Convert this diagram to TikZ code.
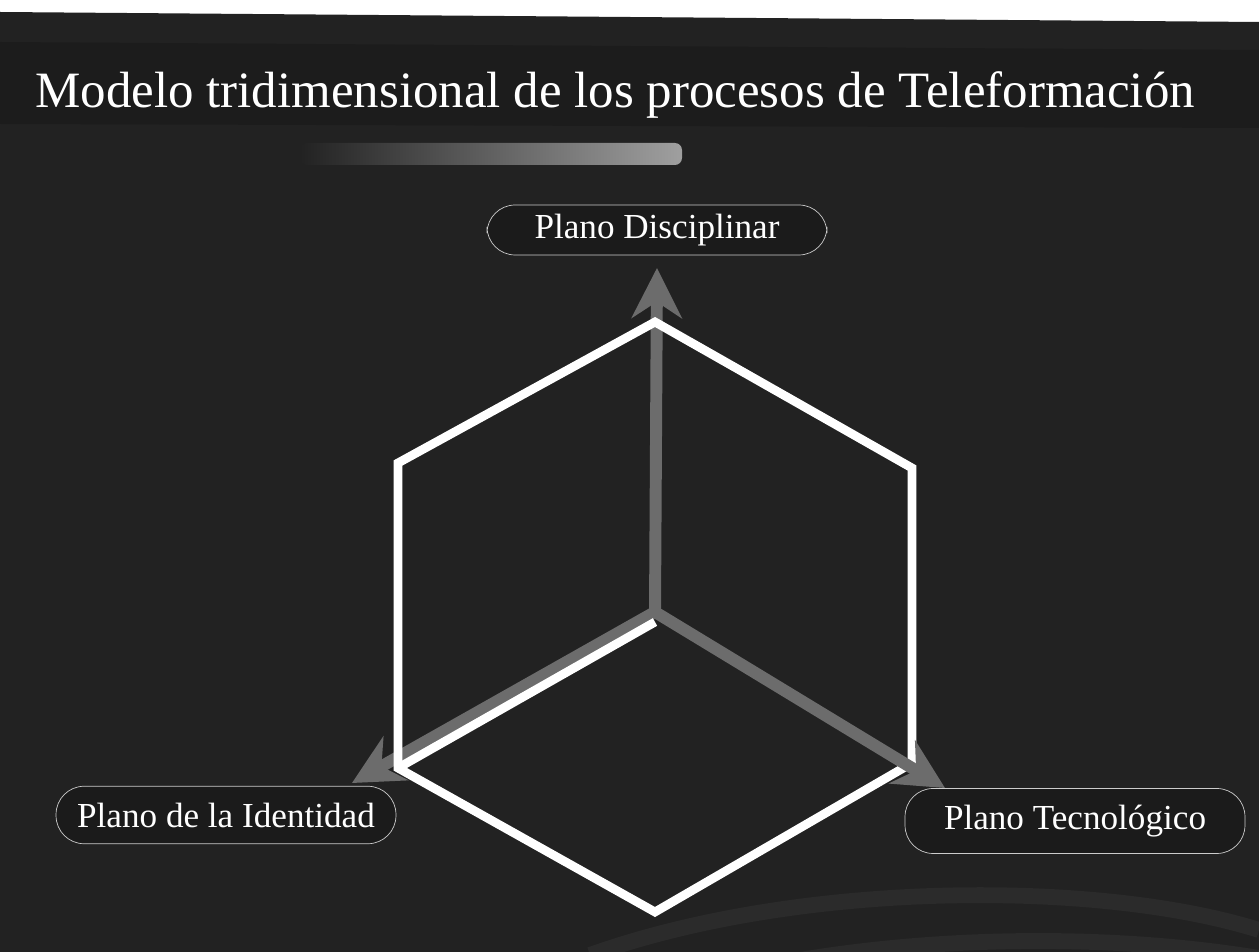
\documentclass[tikz,border=0pt]{standalone}
\usepackage{fontspec}
\setmainfont{Liberation Serif}
\usetikzlibrary{arrows.meta}
\definecolor{slide}{HTML}{222222}
\definecolor{band}{HTML}{1C1C1C}
\definecolor{axisgray}{HTML}{6C6C6C}
\definecolor{tabfill}{HTML}{1B1B1B}
\definecolor{swirl}{HTML}{2B2B2B}
\begin{document}
\begin{tikzpicture}[x=0.02cm, y=-0.02cm,
  axis/.style = {draw=axisgray, line width=6.8pt, -{Stealth[length=1cm, width=1cm]}},
  edge/.style = {draw=white, line width=5pt, line join=miter},
  plane/.style = {shape=rectangle, rounded corners=16pt, draw=gray!40, thin, fill=tabfill, text=white, font=\fontsize{20}{23}\selectfont, minimum width=6.8cm, minimum height=1.15cm}]
\useasboundingbox (0,0) rectangle (1259,952);
\clip (0,0) rectangle (1259,952);
% slide background
\fill[white] (0,0) rectangle (1259,952);
\fill[slide] (0,12) -- (1259,22) -- (1259,952) -- (0,952) -- cycle;
\fill[band] (0,42) -- (1259,50) -- (1259,128) -- (0,124) -- cycle;
\draw[swirl, line width=9pt] (590,955) .. controls (800,880) and (1100,880) .. (1259,930);
\draw[swirl, line width=9pt] (800,960) .. controls (950,935) and (1120,935) .. (1259,958);
% title
\node[anchor=base west, text=white, font=\fontsize{29}{33}\selectfont, inner sep=0pt] (title) at (35,108) {Modelo tridimensional de los procesos de Teleformación};
\shade[left color=slide, right color=gray!75, rounded corners=4pt] (300,143) rectangle (682,165);
% axes and cube
\coordinate (o) at (655,612);
\coordinate (up) at (657,268);
\coordinate (left) at (352,783);
\coordinate (right) at (945,788);
\coordinate (t) at (655,322);
\coordinate (ur) at (912,468);
\coordinate (lr) at (912,763);
\coordinate (b) at (655,912);
\coordinate (ll) at (398,768);
\coordinate (ul) at (398,463);
\coordinate (c) at (655,622);
\draw[axis] (o) -- (up);
\draw[axis] (o) -- (left);
\draw[edge] (t) -- (ur) -- (lr) -- (b) -- (ll) -- (ul) -- cycle;
\draw[edge] (ll) -- (c);
\draw[axis] (o) -- (right);
% planes
\node[plane, minimum height=1cm] (disc) at (657,230) {Plano Disciplinar};
\node[plane] (ident) at (226,815) {Plano de la Identidad};
\node[plane, minimum height=1.3cm] (tecno) at (1075,821) {Plano Tecnológico};
\end{tikzpicture}
\end{document}
